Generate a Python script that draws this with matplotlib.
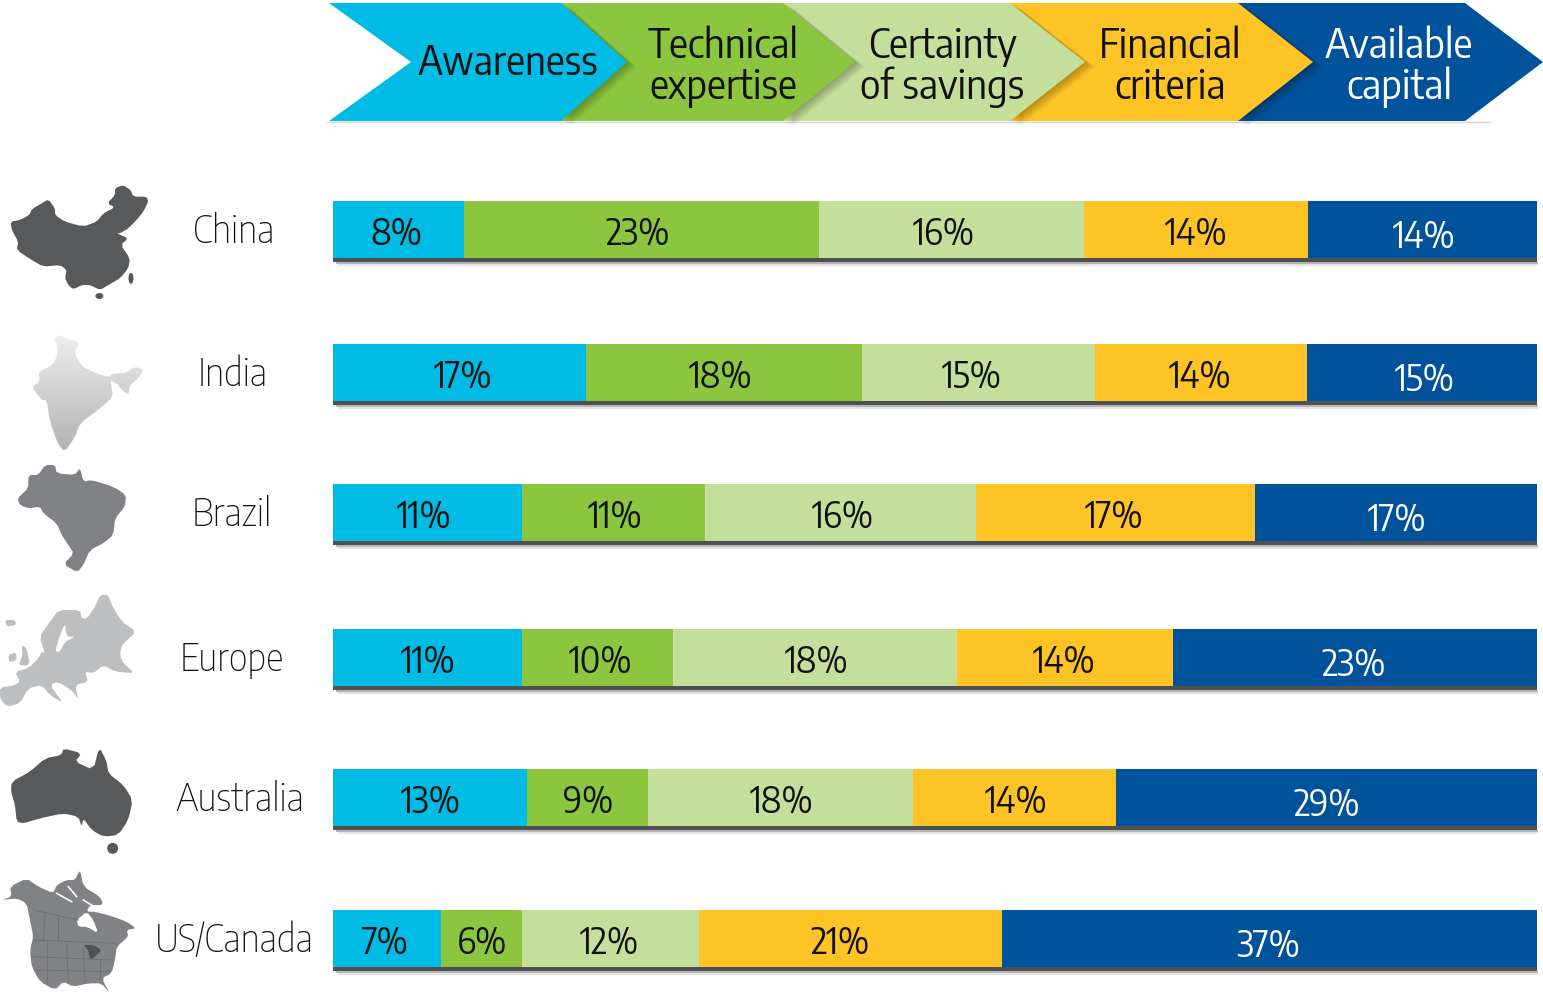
import numpy as np
import matplotlib
matplotlib.use('Agg')
import matplotlib.pyplot as plt
from matplotlib.patches import Polygon, Rectangle, Ellipse

W, H = 1543, 999
plt.rcParams['font.family'] = ['Encode Sans Semi Condensed', 'Roboto', 'Liberation Sans', 'DejaVu Sans']

stages = ['Awareness', 'Technical\nexpertise', 'Certainty\nof savings', 'Financial\ncriteria', 'Available\ncapital']
regions = ['China', 'India', 'Brazil', 'Europe', 'Australia', 'US/Canada']
colors = ['#00bbe4', '#8cc63f', '#c4df9b', '#fec324', '#00529b']
text_colors = ['#111111', '#111111', '#111111', '#111111', '#ffffff']

# share of each bar per stage
awareness = [10.9, 21.0, 15.7, 15.7, 16.1, 9.0]
technical = [29.5, 22.9, 15.2, 12.5, 10.1, 6.7]
certainty = [22.0, 19.4, 22.5, 23.6, 22.0, 14.7]
financial = [18.6, 17.6, 23.2, 18.0, 16.8, 25.2]
capital = [19.0, 19.1, 23.4, 30.2, 35.0, 44.4]

# printed labels, they do not add up to 100 in the source
labels_awareness = ['8%', '17%', '11%', '11%', '13%', '7%']
labels_technical = ['23%', '18%', '11%', '10%', '9%', '6%']
labels_certainty = ['16%', '15%', '16%', '18%', '18%', '12%']
labels_financial = ['14%', '14%', '17%', '14%', '14%', '21%']
labels_capital = ['14%', '15%', '17%', '23%', '29%', '37%']

shares = [awareness, technical, certainty, financial, capital]
labels = [labels_awareness, labels_technical, labels_certainty, labels_financial, labels_capital]

row_y = [229.5, 372.5, 512.5, 657.5, 797.5, 938.5]
row_label_x = [234, 233, 232, 232, 240, 234]
bar_h = 57
# the labels are not centred in their segments, so they get their own x (pixels)
label_x = [[396, 638, 944, 1196, 1424],
           [463, 720, 972, 1200, 1425],
           [424, 615, 843, 1114, 1397],
           [428, 600, 816, 1064, 1354],
           [431, 588, 781, 1016, 1327],
           [385, 482, 609, 840, 1268]]

fig = plt.figure(figsize=(W / 100, H / 100), dpi=100)
bg = fig.add_axes([0, 0, 1, 1])
bg.set_xlim(0, W)
bg.set_ylim(H, 0)
bg.axis('off')


def soft_shadow(ax, pts, dx, dy, z, steps=8, alpha=0.035):
    for i in range(steps, 0, -1):
        k = i / steps
        p = [(x + dx * k, y + dy * k) for x, y in pts]
        ax.add_patch(Polygon(p, closed=True, fc='black', ec='none', alpha=alpha, zorder=z))


# header arrows, drawn right to left so each one overlaps the next
tops = [561, 783, 1010, 1238, 1465]
tips = [627, 855, 1085, 1313, 1543]
starts = [329, 555, 775, 1000, 1230]
text_x = [508, 723, 942, 1170, 1399]
for i in range(4, -1, -1):
    z = 2 + (4 - i) * 2
    pts = [(starts[i], 3), (tops[i], 3), (tips[i], 62), (tops[i], 121), (starts[i], 121)]
    if i == 0:
        pts.append((411, 62))
    if i < 4:
        soft_shadow(bg, pts[1:4], 10, 5, z - 1)
    bg.add_patch(Polygon(pts, closed=True, fc=colors[i], ec='none', zorder=z))
    y = 63 if i == 0 else 67
    bg.text(text_x[i], y, stages[i], color=text_colors[i], fontsize=28.5, ha='center', va='center',
            linespacing=0.97, zorder=20)
bg.plot([327, 1490], [122, 122], color='#d5d5d5', lw=1, zorder=1)

# bars
ax = fig.add_axes([333 / W, 0, (1537 - 333) / W, 1])
ax.set_xlim(0, 100)
ax.set_ylim(H, 0)
ax.axis('off')
ax.patch.set_alpha(0)
for y in row_y:
    bg.add_patch(Rectangle((333, y + 28), 1204, 4, fc='#4f5052', ec='none', zorder=1))
    bg.add_patch(Rectangle((336, y + 32), 1202, 2, fc='#b5b5b5', ec='none', zorder=1))
    bg.add_patch(Rectangle((338, y + 34), 1200, 2, fc='#e4e4e4', ec='none', zorder=1))
left = np.zeros(len(regions))
for i in range(5):
    ax.barh(row_y, shares[i], left=left, height=bar_h, color=colors[i], linewidth=0)
    for j in range(len(regions)):
        ax.text(label_x[j][i], row_y[j] + (8 if i == 4 else 5), labels[i][j], color=text_colors[i], fontsize=25.5,
                ha='center', va='center', transform=bg.transData)
    left += np.array(shares[i])

for name, x, y in zip(regions, row_label_x, row_y):
    bg.text(x, y + 2, name, color='#111111', fontsize=27, weight='light', ha='center', va='center')


# map silhouettes, points traced in 3x crop coordinates
def crop(pts, oy):
    return [(x / 3, oy + y / 3) for x, y in pts]


def rounded(pts, oy):
    # one pass of corner cutting, the traced outlines are too spiky otherwise
    p = np.array(crop(pts, oy))
    q = np.roll(p, -1, axis=0)
    return np.column_stack([0.8 * p + 0.2 * q, 0.2 * p + 0.8 * q]).reshape(-1, 2)


china = [(32, 155), (60, 150), (88, 135), (95, 118), (125, 100), (145, 88), (165, 115), (165, 135), (195, 155),
         (250, 170), (290, 155), (310, 130), (345, 112), (322, 100), (345, 75), (345, 55), (368, 45), (392, 60),
         (400, 80), (440, 80), (445, 95), (430, 125), (410, 150), (385, 175), (360, 190), (350, 190), (385, 205),
         (362, 225), (390, 265), (385, 295), (360, 325), (325, 345), (300, 360), (270, 345), (245, 345), (220, 358),
         (205, 345), (195, 325), (200, 300), (180, 285), (130, 290), (95, 270), (50, 240), (55, 215), (35, 180)]
bg.add_patch(Polygon(rounded(china, 170), fc='#58595b', ec='none'))
bg.add_patch(Ellipse((393 / 3, 170 + 325 / 3), 5, 11, fc='#58595b', ec='none'))
bg.add_patch(Ellipse((298 / 3, 170 + 378 / 3), 8, 6, fc='#58595b', ec='none'))

india = [(160, 505), (180, 495), (200, 505), (240, 518), (222, 545), (245, 590), (290, 610), (325, 622), (340, 610),
         (375, 610), (405, 590), (432, 600), (410, 630), (390, 645), (385, 675), (365, 660), (350, 640), (330, 630),
         (340, 680), (300, 715), (240, 760), (225, 800), (195, 845), (175, 825), (150, 755), (140, 690), (125, 690),
         (95, 650), (120, 635), (115, 605), (160, 585), (175, 545), (170, 520)]
india_patch = Polygon(rounded(india, 170), fc='none', ec='none')
bg.add_patch(india_patch)
grad = np.linspace(0.93, 0.70, 64).reshape(-1, 1)
im = bg.imshow(grad, cmap='gray', vmin=0, vmax=1, extent=(30, 146, 452, 334), aspect='auto', zorder=2)
im.set_clip_path(india_patch)
bg.set_xlim(0, W)
bg.set_ylim(H, 0)

brazil = [(52, 130), (85, 100), (85, 60), (115, 60), (135, 30), (165, 30), (170, 55), (225, 60), (240, 38), (250, 80),
          (275, 75), (340, 95), (378, 120), (375, 155), (345, 190), (340, 240), (310, 265), (270, 285), (250, 330),
          (232, 352), (190, 328), (222, 295), (205, 270), (185, 240), (170, 205), (130, 175), (120, 155), (85, 160),
          (60, 150)]
bg.add_patch(Polygon(rounded(brazil, 455), fc='#808285', ec='none'))

europe = [(0, 698), (40, 692), (60, 680), (45, 650), (85, 640), (115, 610), (125, 590), (135, 595), (118, 545),
          (150, 500), (175, 465), (240, 465), (245, 490), (262, 490), (285, 455), (300, 420), (325, 420), (335, 450),
          (365, 500), (410, 530), (365, 570), (360, 600), (370, 625), (405, 655), (345, 650), (310, 630), (280, 655),
          (255, 650), (265, 680), (225, 690), (235, 735), (220, 710), (175, 680), (150, 690), (190, 745), (150, 720),
          (125, 690), (85, 700), (60, 745), (20, 755), (0, 730)]
baltic = [(195, 505), (180, 540), (165, 590), (180, 590), (195, 560), (225, 545), (200, 545)]
uk = [(65, 570), (80, 580), (90, 630), (55, 632), (68, 600)]
ireland = [(25, 600), (48, 592), (50, 615), (28, 622)]
iceland = [(15, 495), (45, 495), (48, 510), (20, 515)]
for pts, fc in [(europe, '#bcbec0'), (baltic, 'white'), (uk, '#bcbec0'), (ireland, '#bcbec0'), (iceland, '#bcbec0')]:
    bg.add_patch(Polygon(rounded(pts, 455), fc=fc, ec='none'))

australia = [(35, 155), (90, 125), (135, 85), (185, 75), (190, 55), (245, 70), (225, 95), (280, 120), (298, 50),
             (320, 95), (325, 130), (370, 165), (398, 210), (385, 270), (355, 315), (310, 320), (275, 300), (250, 265),
             (245, 290), (235, 260), (190, 250), (120, 265), (70, 280), (50, 275), (45, 225), (33, 185)]
bg.add_patch(Polygon(rounded(australia, 730), fc='#58595b', ec='none'))
bg.add_patch(Ellipse((338 / 3, 730 + 355 / 3), 11, 11, fc='#58595b', ec='none'))

north_america = [(5, 510), (35, 500), (30, 470), (80, 445), (115, 470), (160, 490), (170, 465), (200, 450), (225, 450),
                 (240, 418), (250, 470), (300, 500), (310, 525), (270, 525), (260, 545), (285, 545), (340, 560),
                 (380, 575), (408, 595), (380, 600), (385, 620), (350, 650), (345, 690), (335, 730), (305, 745),
                 (330, 790), (305, 760), (265, 760), (220, 770), (190, 755), (165, 780), (120, 755), (95, 710),
                 (90, 660), (100, 620), (90, 570), (80, 520), (50, 505)]
hudson = [(230, 570), (260, 545), (280, 570), (295, 610), (260, 590), (235, 590)]
lakes = [(250, 645), (280, 645), (305, 660), (285, 680), (270, 690), (265, 660)]
bg.add_patch(Polygon(rounded(north_america, 730), fc='#808285', ec='none'))
bg.add_patch(Polygon(rounded(hudson, 730), fc='white', ec='none'))
bg.add_patch(Polygon(rounded(lakes, 730), fc='#4f5052', ec='none'))
for a, b in [((100, 630), (345, 640)), ((100, 540), (235, 570)), ((135, 555), (130, 630)), ((175, 560), (175, 632)),
             ((95, 680), (340, 690)), ((140, 635), (140, 755)), ((200, 640), (205, 760)), ((250, 650), (255, 760)),
             ((110, 720), (330, 725)), ((300, 690), (300, 745))]:
    p = crop([a, b], 730)
    bg.plot([p[0][0], p[1][0]], [p[0][1], p[1][1]], color='#6d6e71', lw=0.6)
for a, b in [((170, 490), (215, 515)), ((205, 470), (230, 500)), ((250, 510), (290, 535))]:
    p = crop([a, b], 730)
    bg.plot([p[0][0], p[1][0]], [p[0][1], p[1][1]], color='white', lw=1.2)

fig.savefig('out.png', dpi=100, facecolor='white')
